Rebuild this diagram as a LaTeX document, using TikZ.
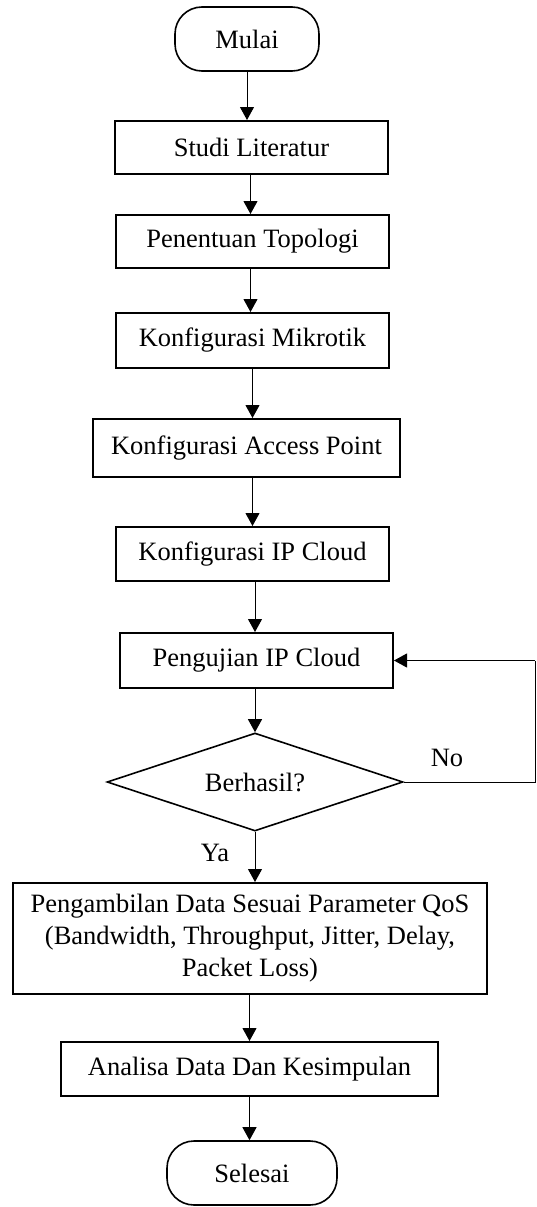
\documentclass[tikz,border=0pt]{standalone}
\usepackage{fontspec}
\setmainfont{Liberation Serif}
\usetikzlibrary{arrows.meta,shapes.geometric}
\begin{document}
\begin{tikzpicture}[x=1pt,y=-1pt,
  every node/.style={font=\fontsize{26.5}{32}\selectfont, inner sep=0pt},
  proc/.style={draw, line width=2pt, align=center},
  term/.style={draw, line width=1.6pt, rounded corners=27pt},
  dec/.style={draw, line width=1.6pt, diamond, aspect=3.02},
  arr/.style={-{Triangle[length=13pt,width=14pt]}, line width=1pt},
  lin/.style={line width=1pt}]
\useasboundingbox (0,0) rectangle (536,1207);
\node[term, minimum width=144pt, minimum height=64pt] (mulai) at (247,39) {Mulai};
\node[proc, minimum width=273pt, minimum height=53pt] (studi) at (251.5,147.5) {Studi Literatur};
\node[proc, minimum width=273pt, minimum height=53pt] (topo) at (252.5,241.5) {Penentuan Topologi};
\node[proc, minimum width=273pt, minimum height=55pt] (mik) at (252.5,340.5) {Konfigurasi Mikrotik};
\node[proc, minimum width=307pt, minimum height=58pt] (ap) at (246.5,448) {Konfigurasi Access Point};
\node[proc, minimum width=273pt, minimum height=54pt] (ipc) at (252.5,554) {Konfigurasi IP Cloud};
\node[proc, minimum width=273pt, minimum height=55pt] (uji) at (256.5,660.5) {Pengujian IP Cloud};
\node[dec, minimum width=296pt, minimum height=98pt] (cek) at (255,782) {Berhasil?};
\node[proc, minimum width=474pt, minimum height=111pt] (data) at (250,938.5) {Pengambilan Data Sesuai Parameter QoS\\(Bandwidth, Throughput, Jitter, Delay,\\Packet Loss)};
\node[proc, minimum width=377pt, minimum height=54pt] (ana) at (249.5,1069) {Analisa Data Dan Kesimpulan};
\node[term, minimum width=170pt, minimum height=64pt] (selesai) at (252,1173) {Selesai};
\coordinate (loopc) at (535,0);
\node (no) at (447,758) {No};
\node (ya) at (215,853) {Ya};
\draw[arr] (mulai.south) -- (mulai.south |- studi.north);
\draw[arr] (studi.south -| topo.north) ++(-2,0) -- ([xshift=-2pt]topo.north);
\draw[arr] ([xshift=-2pt]topo.south) -- ([xshift=-2pt]mik.north);
\draw[arr] (mik.south) -- (mik.south |- ap.north);
\draw[arr] (ipc.north |- ap.south) -- (ipc.north);
\draw[arr] ([xshift=-1.5pt]ipc.south -| uji.north) -- ([xshift=-1.5pt]uji.north);
\draw[arr] (cek.north |- uji.south) -- (cek.north);
\draw[arr] (cek.south) -- (cek.south |- data.north);
\draw[arr] (ana.north |- data.south) -- (ana.north);
\draw[arr] (ana.south) -- (ana.south |- selesai.north);
\draw[lin] (cek.east) -- (cek.east -| loopc) -- (uji.east -| loopc);
\draw[arr] (uji.east -| loopc) -- (uji.east);
\end{tikzpicture}
\end{document}
